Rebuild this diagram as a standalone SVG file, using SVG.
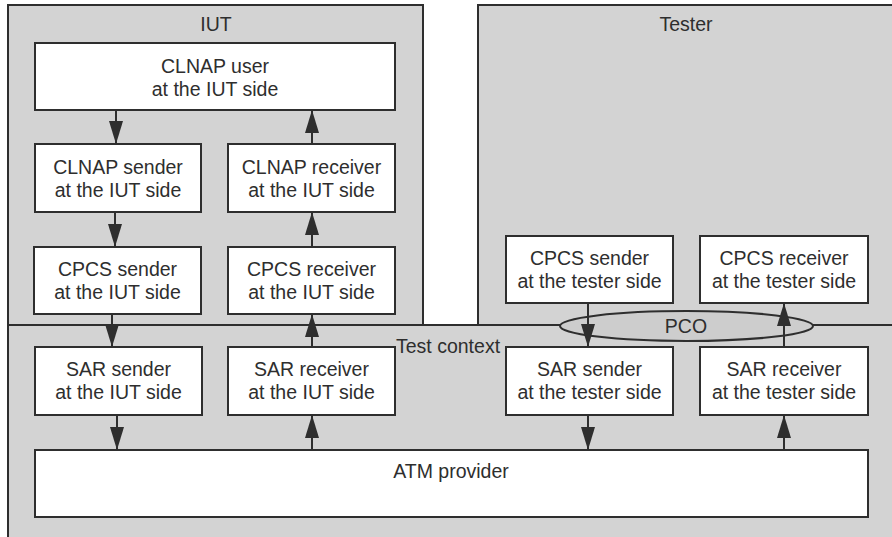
<svg xmlns="http://www.w3.org/2000/svg" width="892" height="537" viewBox="0 0 892 537">
<defs>
<style>
.area{fill:#d3d3d3;stroke:#2e2e2e;stroke-width:2}
.box{fill:#ffffff;stroke:#2e2e2e;stroke-width:2}
.t{font-family:"Liberation Sans",Arial,sans-serif;font-size:19.5px;fill:#2e2e2e;text-anchor:middle}
.lbl{font-family:"Liberation Sans",Arial,sans-serif;font-size:19.5px;fill:#2e2e2e}
.c{stroke:#2e2e2e;stroke-width:2;fill:none;marker-end:url(#ah)}
</style>
<marker id="ah" viewBox="0 0 23 14" refX="23" refY="7" markerWidth="23" markerHeight="14" markerUnits="userSpaceOnUse" orient="auto">
<path d="M0,0 L23,7 L0,14 Z" fill="#2e2e2e"/>
</marker>
</defs>
<rect width="892" height="537" fill="#ffffff"/>
<g id="iut">
<rect class="area" x="8" y="5" width="415" height="320"/>
<text class="t" x="216" y="31">IUT</text>
</g>
<g id="tester">
<rect class="area" x="478" y="5" width="420" height="320"/>
<text class="t" x="686" y="31">Tester</text>
</g>
<g id="test-context">
<rect class="area" x="8" y="325" width="890" height="220"/>
<text class="lbl" x="396" y="353">Test context</text>
</g>
<g id="pco">
<ellipse cx="686.5" cy="326" rx="126.5" ry="15" fill="#cdcdcd" stroke="#2e2e2e" stroke-width="2"/>
<text class="t" x="686" y="333">PCO</text>
</g>
<g id="clnap-user">
<rect class="box" x="35" y="43" width="360" height="67"/>
<text class="t" x="215" y="73">CLNAP user</text>
<text class="t" x="215" y="96">at the IUT side</text>
</g>
<g id="clnap-sender">
<rect class="box" x="35" y="144" width="166" height="68"/>
<text class="t" x="118" y="174">CLNAP sender</text>
<text class="t" x="118" y="197">at the IUT side</text>
</g>
<g id="clnap-receiver">
<rect class="box" x="228" y="144" width="167" height="68"/>
<text class="t" x="311.5" y="174">CLNAP receiver</text>
<text class="t" x="311.5" y="197">at the IUT side</text>
</g>
<g id="cpcs-sender-iut">
<rect class="box" x="34" y="247" width="167" height="67"/>
<text class="t" x="117.5" y="276">CPCS sender</text>
<text class="t" x="117.5" y="299">at the IUT side</text>
</g>
<g id="cpcs-receiver-iut">
<rect class="box" x="228" y="247" width="167" height="67"/>
<text class="t" x="311.5" y="276">CPCS receiver</text>
<text class="t" x="311.5" y="299">at the IUT side</text>
</g>
<g id="sar-sender-iut">
<rect class="box" x="35" y="347" width="167" height="68"/>
<text class="t" x="118.5" y="376">SAR sender</text>
<text class="t" x="118.5" y="399">at the IUT side</text>
</g>
<g id="sar-receiver-iut">
<rect class="box" x="228" y="347" width="167" height="68"/>
<text class="t" x="311.5" y="376">SAR receiver</text>
<text class="t" x="311.5" y="399">at the IUT side</text>
</g>
<g id="cpcs-sender-tester">
<rect class="box" x="506" y="236" width="167" height="67"/>
<text class="t" x="589.5" y="265">CPCS sender</text>
<text class="t" x="589.5" y="288">at the tester side</text>
</g>
<g id="cpcs-receiver-tester">
<rect class="box" x="700" y="236" width="168" height="67"/>
<text class="t" x="784" y="265">CPCS receiver</text>
<text class="t" x="784" y="288">at the tester side</text>
</g>
<g id="sar-sender-tester">
<rect class="box" x="506" y="347" width="167" height="68"/>
<text class="t" x="589.5" y="376">SAR sender</text>
<text class="t" x="589.5" y="399">at the tester side</text>
</g>
<g id="sar-receiver-tester">
<rect class="box" x="700" y="347" width="168" height="68"/>
<text class="t" x="784" y="376">SAR receiver</text>
<text class="t" x="784" y="399">at the tester side</text>
</g>
<g id="atm-provider">
<rect class="box" x="35" y="450" width="833" height="67"/>
<text class="t" x="451" y="478">ATM provider</text>
</g>
<g id="connectors">
<line class="c" x1="116" y1="110" x2="116" y2="144"/>
<line class="c" x1="312" y1="144" x2="312" y2="110"/>
<line class="c" x1="115" y1="212" x2="115" y2="247"/>
<line class="c" x1="312" y1="247" x2="312" y2="212"/>
<line class="c" x1="112" y1="314" x2="112" y2="347"/>
<line class="c" x1="312" y1="347" x2="312" y2="314"/>
<line class="c" x1="117" y1="415" x2="117" y2="450"/>
<line class="c" x1="312" y1="450" x2="312" y2="415"/>
<line class="c" x1="588" y1="303" x2="588" y2="347"/>
<line class="c" x1="784" y1="347" x2="784" y2="303"/>
<line class="c" x1="588" y1="415" x2="588" y2="450"/>
<line class="c" x1="784" y1="450" x2="784" y2="415"/>
</g>
</svg>
